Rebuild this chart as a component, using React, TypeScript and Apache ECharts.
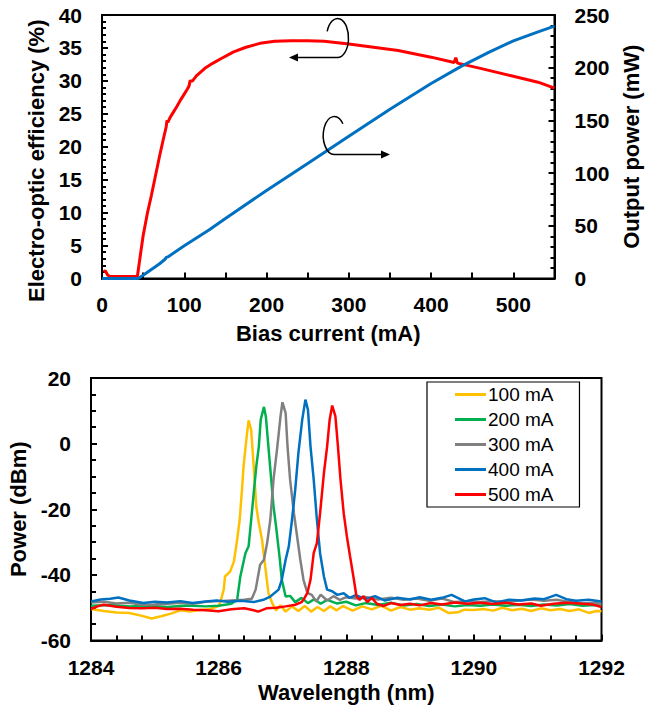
import React, { useEffect, useRef } from 'react';
import * as echarts from 'echarts';

const FONT = '"Liberation Sans", Arial, Helvetica, sans-serif';

// ---------- Top chart: efficiency and output power vs bias current ----------
const effCurrent = [2, 4, 7, 10, 25, 43, 46, 50, 55, 60, 65, 70, 75, 78, 79, 80, 83, 87, 91, 95, 99, 104, 106, 107, 110, 115, 125, 135, 145, 160, 175, 192, 210, 230, 250, 270, 300, 330, 360, 400, 428, 430, 432, 460, 500, 530, 550];
const effValues = [1.0, 1.2, 0.5, 0.3, 0.3, 0.3, 3.0, 6.5, 9.8, 12.6, 15.6, 18.6, 21.4, 23.0, 24.0, 23.7, 24.5, 25.3, 26.1, 27.0, 27.8, 28.8, 29.3, 30.0, 30.0, 30.8, 31.9, 32.7, 33.4, 34.4, 35.1, 35.7, 36.0, 36.1, 36.1, 36.0, 35.6, 35.1, 34.6, 33.6, 32.8, 33.5, 32.7, 31.9, 30.7, 29.8, 28.9];

const powCurrent = [0, 44, 50, 60, 70, 77, 78, 80, 100, 130, 150, 200, 250, 300, 350, 400, 437, 470, 500, 530, 550];
const powValues = [0, 0, 3, 8.5, 14, 18.5, 20, 20.5, 31, 46, 57, 83.5, 109, 135, 160.5, 185, 201.5, 214.5, 225.5, 234, 239.5];

const biasTickLabels = [0, 100, 200, 300, 400, 500];

// ---------- Bottom chart: optical spectra ----------
const wl100 = [1284.0, 1284.2, 1284.4, 1284.6, 1284.8, 1284.95, 1285.1, 1285.25, 1285.4, 1285.55, 1285.7, 1285.85, 1286.0, 1286.03, 1286.08, 1286.1, 1286.18, 1286.24, 1286.29, 1286.33, 1286.37, 1286.39, 1286.44, 1286.47, 1286.51, 1286.55, 1286.59, 1286.63, 1286.68, 1286.73, 1286.78, 1286.84, 1286.9, 1286.97, 1287.05, 1287.15, 1287.25, 1287.35, 1287.45, 1287.55, 1287.65, 1287.75, 1287.85, 1287.95, 1288.1, 1288.25, 1288.4, 1288.55, 1288.7, 1288.85, 1289.0, 1289.15, 1289.3, 1289.45, 1289.6, 1289.75, 1289.85, 1290.0, 1290.15, 1290.3, 1290.45, 1290.6, 1290.75, 1290.9, 1291.05, 1291.2, 1291.35, 1291.5, 1291.65, 1291.8, 1291.92, 1292.0];
const p100 = [-50.4, -51.0, -51.5, -51.6, -52.5, -53.3, -52.6, -51.8, -50.8, -51.2, -50.7, -50.5, -49.5, -48.1, -44.5, -40.5, -39.0, -35.9, -29.3, -23.2, -13.0, -7.0, 2.2, 7.1, 4.2, -7.0, -19.1, -24.2, -29.3, -37.4, -45.5, -48.6, -50.8, -49.3, -51.2, -49.6, -51.0, -49.5, -51.2, -49.8, -51.0, -49.6, -50.8, -49.5, -50.9, -49.6, -50.5, -49.4, -50.9, -49.8, -50.6, -50.2, -50.6, -50.0, -51.6, -51.4, -50.6, -50.7, -50.4, -50.9, -50.0, -50.8, -50.3, -51.0, -50.2, -50.8, -50.4, -51.0, -50.5, -51.6, -51.0, -51.1];

const wl200 = [1284.0, 1284.3, 1284.6, 1284.9, 1285.2, 1285.5, 1285.8, 1286.0, 1286.2, 1286.29, 1286.34, 1286.42, 1286.47, 1286.51, 1286.55, 1286.59, 1286.63, 1286.66, 1286.71, 1286.74, 1286.78, 1286.82, 1286.86, 1286.9, 1286.96, 1286.99, 1287.05, 1287.12, 1287.2, 1287.3, 1287.4, 1287.5, 1287.6, 1287.7, 1287.85, 1288.0, 1288.15, 1288.3, 1288.5, 1288.7, 1288.9, 1289.1, 1289.3, 1289.5, 1289.7, 1289.9, 1290.1, 1290.3, 1290.5, 1290.7, 1290.9, 1291.1, 1291.3, 1291.5, 1291.7, 1291.9, 1292.0];
const p200 = [-49.4, -49.2, -49.6, -49.4, -49.8, -49.3, -49.6, -49.4, -48.8, -47.6, -40.5, -33.4, -31.3, -23.2, -15.1, -7.0, -0.9, 7.3, 11.2, 8.3, -0.9, -10.0, -19.1, -25.2, -35.4, -41.5, -46.6, -46.4, -48.3, -47.0, -48.6, -47.4, -48.8, -47.6, -48.7, -48.2, -49.3, -48.6, -49.2, -48.5, -49.3, -48.9, -49.5, -49.0, -49.6, -49.2, -49.4, -49.0, -49.4, -49.1, -49.5, -49.0, -49.3, -48.9, -49.4, -49.2, -49.4];

const wl300 = [1284.0, 1284.2, 1284.4, 1284.6, 1284.8, 1285.0, 1285.2, 1285.4, 1285.6, 1285.8, 1286.0, 1286.2, 1286.4, 1286.52, 1286.58, 1286.65, 1286.71, 1286.76, 1286.81, 1286.86, 1286.92, 1286.97, 1287.0, 1287.05, 1287.08, 1287.12, 1287.18, 1287.23, 1287.28, 1287.33, 1287.39, 1287.46, 1287.53, 1287.6, 1287.7, 1287.8, 1287.9, 1288.0, 1288.15, 1288.3, 1288.5, 1288.7, 1288.9, 1289.1, 1289.3, 1289.5, 1289.7, 1289.9, 1290.1, 1290.3, 1290.5, 1290.7, 1290.9, 1291.1, 1291.3, 1291.5, 1291.7, 1291.9, 1292.0];
const p300 = [-48.4, -48.2, -48.7, -48.5, -49.1, -49.0, -48.8, -48.5, -48.8, -48.2, -48.0, -47.8, -47.6, -47.3, -44.5, -36.9, -35.4, -30.3, -23.2, -11.0, -0.9, 8.3, 12.6, 9.3, -0.9, -11.0, -21.2, -28.3, -35.4, -41.5, -45.5, -46.1, -48.1, -46.0, -47.8, -46.5, -47.6, -46.8, -47.2, -46.7, -47.5, -47.0, -47.6, -47.2, -47.9, -47.2, -48.3, -48.0, -48.3, -48.0, -48.2, -47.8, -47.5, -47.9, -47.6, -48.3, -48.7, -48.5, -48.9];

const wl400 = [1284.0, 1284.15, 1284.3, 1284.43, 1284.6, 1284.82, 1285.0, 1285.19, 1285.4, 1285.59, 1285.8, 1285.97, 1286.15, 1286.35, 1286.55, 1286.7, 1286.81, 1286.94, 1286.99, 1287.05, 1287.1, 1287.15, 1287.2, 1287.25, 1287.31, 1287.36, 1287.4, 1287.44, 1287.49, 1287.54, 1287.59, 1287.65, 1287.7, 1287.78, 1287.86, 1287.96, 1288.05, 1288.15, 1288.3, 1288.45, 1288.6, 1288.8, 1289.0, 1289.15, 1289.33, 1289.5, 1289.65, 1289.86, 1290.0, 1290.17, 1290.35, 1290.55, 1290.75, 1290.95, 1291.1, 1291.29, 1291.45, 1291.6, 1291.8, 1292.0];
const p400 = [-48.1, -47.5, -47.3, -46.9, -47.8, -48.6, -48.2, -48.4, -48.0, -48.6, -48.1, -47.8, -48.2, -47.9, -48.3, -47.6, -46.6, -44.5, -41.5, -35.4, -31.3, -23.2, -14.1, -2.9, 7.3, 13.4, 10.3, -0.9, -11.0, -23.2, -33.4, -40.5, -44.5, -45.0, -46.1, -45.6, -47.0, -46.2, -47.4, -46.5, -47.8, -47.0, -47.5, -46.8, -47.6, -47.0, -46.1, -48.1, -47.5, -47.1, -48.4, -47.6, -47.8, -47.2, -47.4, -46.1, -47.4, -47.9, -47.6, -48.1];

const wl500 = [1284.0, 1284.1, 1284.2, 1284.4, 1284.6, 1284.8, 1285.0, 1285.2, 1285.4, 1285.6, 1285.8, 1286.0, 1286.2, 1286.4, 1286.55, 1286.62, 1286.75, 1286.9, 1287.05, 1287.2, 1287.3, 1287.33, 1287.39, 1287.44, 1287.49, 1287.54, 1287.59, 1287.65, 1287.7, 1287.74, 1287.78, 1287.83, 1287.87, 1287.91, 1287.96, 1288.01, 1288.06, 1288.12, 1288.16, 1288.21, 1288.27, 1288.33, 1288.4, 1288.48, 1288.58, 1288.7, 1288.85, 1289.0, 1289.15, 1289.33, 1289.5, 1289.7, 1289.9, 1290.1, 1290.3, 1290.5, 1290.7, 1290.9, 1291.05, 1291.25, 1291.45, 1291.65, 1291.85, 1292.0];
const p500 = [-50.4, -49.6, -49.1, -49.7, -50.1, -50.2, -50.0, -50.4, -50.3, -50.6, -50.8, -51.1, -50.5, -50.2, -50.8, -51.2, -50.2, -50.0, -49.6, -49.1, -48.3, -47.6, -45.5, -41.5, -33.4, -30.3, -21.2, -9.0, -0.9, 7.3, 11.6, 8.3, -0.9, -11.0, -21.2, -28.3, -34.4, -41.5, -46.6, -47.6, -46.5, -48.3, -47.0, -48.8, -49.5, -48.6, -49.2, -48.8, -49.3, -48.6, -49.0, -48.4, -48.8, -48.5, -48.9, -48.5, -49.0, -48.7, -49.4, -48.8, -48.5, -48.7, -49.0, -49.8];

const spectraNames = ['100 mA', '200 mA', '300 mA', '400 mA', '500 mA'];
const spectraColors = ['#FFC000', '#00B050', '#808080', '#0070C0', '#FF0000'];
const spectraWl = [wl100, wl200, wl300, wl400, wl500];
const spectraP = [p100, p200, p300, p400, p500];

// annotation shapes (decorative circled arrows)
echarts.graphic.registerShape(
  'loopTop',
  echarts.graphic.extendPath('M327.2,31.3 A11,19.5 0 1 1 337.5,57.5 L296,57.5', {})
);
echarts.graphic.registerShape(
  'loopBottom',
  echarts.graphic.extendPath('M342.9,123.8 A11,19 0 1 0 334.5,154.5 L383,154.5', {})
);

const zip = (xs: number[], ys: number[]) => xs.map((x, i) => [x, ys[i]]);

const black = '#000';
const mkAxisLine = () => ({ show: true, onZero: false, lineStyle: { color: black, width: 2 } });
const mkTick = (length: number) => ({ show: true, inside: true, length, lineStyle: { color: black, width: 2 } });
const mkMinor = (splitNumber: number, length: number) => ({ show: true, splitNumber, length, lineStyle: { color: black, width: 2 } });
const labelStyle = { color: black, fontSize: 21, fontWeight: 'bold' as const, fontFamily: FONT };
const nameStyle = { color: black, fontSize: 22, fontWeight: 'bold' as const, fontFamily: FONT };

export default function App() {
  const ref = useRef<HTMLDivElement>(null);
  useEffect(() => {
    if (!ref.current) return;
    const chart = echarts.init(ref.current, undefined, { renderer: 'svg' });
    const option: any = {
      animation: false,
      backgroundColor: '#fff',
      textStyle: { fontFamily: FONT },
      grid: [
        { left: 102, top: 15, width: 452.5, height: 263.5, show: true, borderColor: black, borderWidth: 2, backgroundColor: 'transparent', containLabel: false, outerBoundsMode: 'none' },
        { left: 91, top: 378, width: 510.5, height: 262.5, show: true, borderColor: black, borderWidth: 2, backgroundColor: 'transparent', containLabel: false, outerBoundsMode: 'none' },
      ],
      xAxis: [
        {
          gridIndex: 0, type: 'value', min: 0, max: 550, interval: 50,
          axisLine: mkAxisLine(), splitLine: { show: false },
          axisTick: mkTick(6),
          axisLabel: { ...labelStyle, margin: 15, formatter: (v: number) => (biasTickLabels.includes(v) ? String(v) : '') },
          name: 'Bias current (mA)', nameLocation: 'middle', nameGap: 44, nameTextStyle: nameStyle,
        },
        {
          gridIndex: 1, type: 'value', min: 1284, max: 1292, interval: 2,
          axisLine: mkAxisLine(), splitLine: { show: false },
          axisTick: mkTick(6),
          minorTick: mkMinor(5, 5),
          minorSplitLine: { show: false },
          axisLabel: { ...labelStyle, margin: 16, formatter: (v: number) => String(v) },
          name: 'Wavelength (nm)', nameLocation: 'middle', nameGap: 41, nameTextStyle: nameStyle,
        },
      ],
      yAxis: [
        {
          gridIndex: 0, type: 'value', position: 'left', min: 0, max: 40, interval: 5,
          axisLine: mkAxisLine(), splitLine: { show: false },
          axisTick: mkTick(6),
          minorTick: mkMinor(5, 4),
          minorSplitLine: { show: false },
          axisLabel: { ...labelStyle, margin: 20 },
          name: 'Electro-optic efficiency (%)', nameLocation: 'middle', nameGap: 46,
          nameTextStyle: { ...nameStyle, padding: [0, 28, 0, 0] },
        },
        {
          gridIndex: 0, type: 'value', position: 'right', min: 0, max: 250, interval: 50,
          axisLine: mkAxisLine(), splitLine: { show: false },
          axisTick: mkTick(6),
          minorTick: mkMinor(5, 4),
          minorSplitLine: { show: false },
          axisLabel: { ...labelStyle, margin: 20 },
          name: 'Output power (mW)', nameLocation: 'middle', nameGap: 62, nameTextStyle: nameStyle,
        },
        {
          gridIndex: 1, type: 'value', min: -60, max: 20, interval: 20,
          axisLine: mkAxisLine(), splitLine: { show: false },
          axisTick: mkTick(6),
          minorTick: mkMinor(4, 5),
          minorSplitLine: { show: false },
          axisLabel: { ...labelStyle, margin: 20 },
          name: 'Power (dBm)', nameLocation: 'middle', nameGap: 54, nameTextStyle: nameStyle,
        },
      ],
      legend: {
        data: spectraNames,
        orient: 'vertical',
        left: 427, top: 382,
        padding: [3, 26, 3, 28],
        itemGap: 6,
        itemWidth: 31, itemHeight: 3,
        icon: 'rect',
        borderColor: black, borderWidth: 1.2,
        backgroundColor: '#fff',
        textStyle: { color: black, fontSize: 19, fontFamily: FONT, lineHeight: 19, padding: [0, 0, 0, -3] },
      },
      series: [
        {
          name: 'Efficiency', type: 'line', xAxisIndex: 0, yAxisIndex: 0,
          data: zip(effCurrent, effValues), showSymbol: false, symbol: 'none',
          lineStyle: { color: '#FF0000', width: 3 }, itemStyle: { color: '#FF0000' },
        },
        {
          name: 'Output power', type: 'line', xAxisIndex: 0, yAxisIndex: 1,
          data: zip(powCurrent, powValues), showSymbol: false, symbol: 'none',
          lineStyle: { color: '#0070C0', width: 3 }, itemStyle: { color: '#0070C0' },
        },
        ...spectraNames.map((n, i) => ({
          name: n, type: 'line', xAxisIndex: 1, yAxisIndex: 2,
          data: zip(spectraWl[i], spectraP[i]), showSymbol: false, symbol: 'none',
          lineStyle: { color: spectraColors[i], width: 2.5 }, itemStyle: { color: spectraColors[i] },
        })),
      ],
      graphic: [
        { type: 'loopTop', x: 0, y: 0, style: { stroke: black, lineWidth: 1.5, fill: 'none' }, z: 100 },
        { type: 'polygon', shape: { points: [[289, 57.5], [298, 53.5], [298, 61.5]] }, style: { fill: black }, z: 100 },
        { type: 'loopBottom', x: 0, y: 0, style: { stroke: black, lineWidth: 1.5, fill: 'none' }, z: 100 },
        { type: 'polygon', shape: { points: [[390, 154.5], [381, 150.5], [381, 158.5]] }, style: { fill: black }, z: 100 },
      ],
    };
    chart.setOption(option);
    return () => chart.dispose();
  }, []);
  return (
    <div
      ref={ref}
      style={{ position: 'absolute', left: 0, top: 0, width: 651, height: 710, background: '#fff' }}
    />
  );
}
